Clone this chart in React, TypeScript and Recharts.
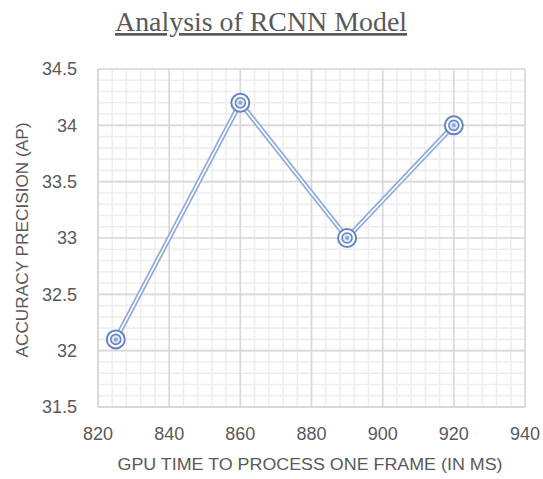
import React from 'react';
import { LineChart, Line, XAxis, YAxis, CartesianGrid } from 'recharts';

const gpuTimes = [825, 860, 890, 920];
const precision = [32.1, 34.2, 33.0, 34.0];
const xTicks = [820, 840, 860, 880, 900, 920, 940];
const yTicks = [31.5, 32, 32.5, 33, 33.5, 34, 34.5];
const yTickLabels = ['31.5', '32', '32.5', '33', '33.5', '34', '34.5'];
const xDomain = [820, 940];
const yDomain = [31.5, 34.5];

const data = gpuTimes.map((t, i) => ({ t, ap: precision[i] }));

const minorX: number[] = [];
for (let v = 820; v <= 940; v += 4) minorX.push(v);
const minorY: number[] = [];
for (let i = 0; i <= 30; i++) minorY.push(Math.round((31.5 + i * 0.1) * 10) / 10);

const minorYGen = (props: any) => {
  const ya = props && props.yAxis;
  if (ya && typeof ya.scale === 'function') return minorY.map((v) => ya.scale(v));
  const off = props.offset;
  return minorY.map((v) => off.top + (off.height * (yDomain[1] - v)) / (yDomain[1] - yDomain[0]));
};
const minorXGen = (props: any) => {
  const xa = props && props.xAxis;
  if (xa && typeof xa.scale === 'function') return minorX.map((v) => xa.scale(v));
  const off = props.offset;
  return minorX.map((v) => off.left + (off.width * (v - xDomain[0])) / (xDomain[1] - xDomain[0]));
};

const Marker = (props: any) => {
  const { cx, cy } = props;
  if (cx == null || cy == null) return null;
  return (
    <g>
      <circle cx={cx} cy={cy} r={9} fill="#ffffff" stroke="#6483c6" strokeWidth={2} />
      <circle cx={cx} cy={cy} r={5} fill="#dfe6f5" stroke="#6483c6" strokeWidth={1.6} />
      <circle cx={cx} cy={cy} r={2} fill="#8ea6d8" />
    </g>
  );
};

const tickStyle = { fill: '#595959', fontSize: 18, fontFamily: 'Liberation Sans, Arial, sans-serif' };

export default function App() {
  return (
    <div style={{ position: 'absolute', left: 0, top: 0, width: 543, height: 479, background: '#fff' }}>
      <LineChart width={543} height={479} data={data} margin={{ top: 69, right: 18, bottom: 0, left: 0 }}>
        <CartesianGrid
          horizontalCoordinatesGenerator={minorYGen}
          verticalCoordinatesGenerator={minorXGen}
          stroke="#eeeeee"
          strokeWidth={1.6}
        />
        <CartesianGrid stroke="#d9d9d9" strokeWidth={1.6} />
        <XAxis
          dataKey="t"
          type="number"
          domain={xDomain}
          ticks={xTicks}
          height={72}
          tickLine={false}
          tickSize={0}
          tickMargin={20}
          axisLine={{ stroke: '#d9d9d9', strokeWidth: 2 }}
          tick={tickStyle}
        />
        <YAxis
          type="number"
          domain={yDomain}
          ticks={yTicks}
          tickFormatter={(v: number) => yTickLabels[yTicks.indexOf(v)] ?? String(v)}
          width={98}
          tickLine={false}
          tickSize={0}
          tickMargin={21}
          axisLine={{ stroke: '#d9d9d9', strokeWidth: 2 }}
          tick={tickStyle}
        />
        <Line
          dataKey="ap"
          type="linear"
          stroke="#8eaadb"
          strokeWidth={5}
          dot={false}
          activeDot={false}
          isAnimationActive={false}
        />
        <Line
          dataKey="ap"
          type="linear"
          stroke="#ffffff"
          strokeWidth={1.6}
          dot={<Marker />}
          activeDot={false}
          isAnimationActive={false}
        />
      </LineChart>
      <svg width={543} height={479} style={{ position: 'absolute', left: 0, top: 0, pointerEvents: 'none' }}>
        <text
          x={261}
          y={31}
          textAnchor="middle"
          fill="#595959"
          fontSize={27}
          fontFamily="Liberation Serif, Times New Roman, serif"
          style={{ textDecoration: 'underline' }}
          textLength={292}
          lengthAdjust="spacingAndGlyphs"
        >
          Analysis of RCNN Model
        </text>
        <text
          x={310}
          y={470}
          textAnchor="middle"
          fill="#595959"
          fontSize={16}
          fontFamily="Liberation Sans, Arial, sans-serif"
          textLength={385}
          lengthAdjust="spacingAndGlyphs"
        >
          GPU TIME TO PROCESS ONE FRAME (IN MS)
        </text>
        <text
          x={0}
          y={0}
          transform="translate(28,240) rotate(-90)"
          textAnchor="middle"
          fill="#595959"
          fontSize={16}
          fontFamily="Liberation Sans, Arial, sans-serif"
          textLength={235}
          lengthAdjust="spacingAndGlyphs"
        >
          ACCURACY PRECISION (AP)
        </text>
      </svg>
    </div>
  );
}
